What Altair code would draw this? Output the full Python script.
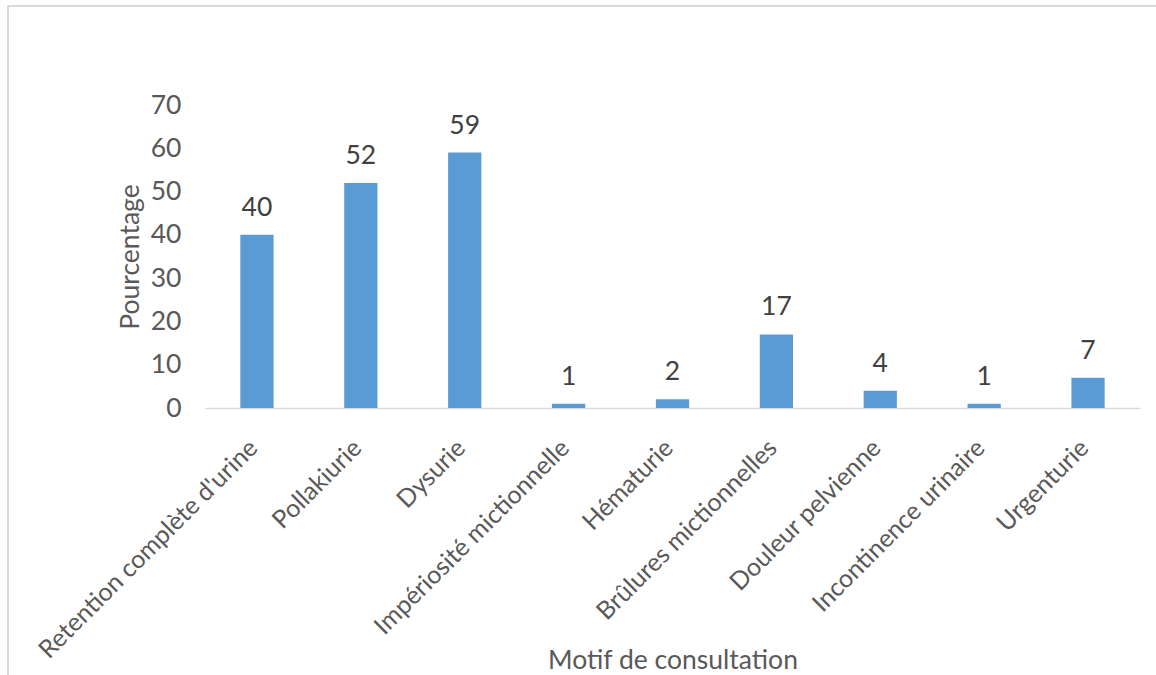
import altair as alt
import pandas as pd

categories = [
    "Retention complète d'urine",
    "Pollakiurie",
    "Dysurie",
    "Impériosité mictionnelle",
    "Hématurie",
    "Brûlures mictionnelles",
    "Douleur pelvienne",
    "Incontinence urinaire",
    "Urgenturie",
]
values = [40, 52, 59, 1, 2, 17, 4, 1, 7]
y_ticks = [0, 10, 20, 30, 40, 50, 60, 70]

df = pd.DataFrame({"motif": categories, "pct": values})

FONT = "Lato"
FS = 26.5
W, H = 935, 303

x_enc = alt.X(
    "motif:N",
    sort=categories,
    title="Motif de consultation",
    scale=alt.Scale(paddingInner=0.68, paddingOuter=0.34),
    axis=alt.Axis(
        labelAngle=-45,
        labelAlign="right",
        labelBaseline="top",
        labelPadding=27,
        labelOffset=-12,
        ticks=False,
        domainColor="#D9D9D9",
        domainWidth=1.5,
        labelFont=FONT,
        labelFontSize=25,
        labelColor="#595959",
        labelLimit=0,
        titleFont=FONT,
        titleFontSize=FS,
        titleFontWeight="normal",
        titleColor="#595959",
        titleY=260,
        titleBaseline="alphabetic",
    ),
)

y_enc = alt.Y(
    "pct:Q",
    title="Pourcentage",
    scale=alt.Scale(domain=[0, 70]),
    axis=alt.Axis(
        values=y_ticks,
        grid=False,
        domain=False,
        ticks=False,
        labelPadding=24,
        labelFont=FONT,
        labelFontSize=FS,
        labelColor="#595959",
        titleFont=FONT,
        titleFontSize=FS,
        titleFontWeight="normal",
        titleColor="#595959",
        titleX=-75,
        titleY=H / 2,
        titleBaseline="middle",
    ),
)

base = alt.Chart(df)

bars = base.mark_bar(color="#5B9BD5").encode(x=x_enc, y=y_enc)

labels = base.mark_text(
    baseline="bottom", dy=-13, font=FONT, fontSize=FS, color="#404040"
).encode(x=alt.X("motif:N", sort=categories), y="pct:Q", text="pct:Q")

border_top = alt.Chart(df).mark_rule(color="#D9D9D9", strokeWidth=1.5).encode(
    x=alt.value(-197), x2=alt.value(951), y=alt.value(-99)
)
border_left = alt.Chart(df).mark_rule(color="#D9D9D9", strokeWidth=1.5).encode(
    x=alt.value(-197), y=alt.value(-99), y2=alt.value(570)
)

chart = (
    alt.layer(bars, labels, border_top, border_left)
    .properties(
        width=W,
        height=H,
        autosize=alt.AutoSizeParams(type="none"),
        padding={"left": 205, "top": 105, "right": 16, "bottom": 267},
        background="white",
    )
    .configure_view(stroke=None)
)

chart.save("out.html", embed_options={"renderer": "svg", "actions": False})
